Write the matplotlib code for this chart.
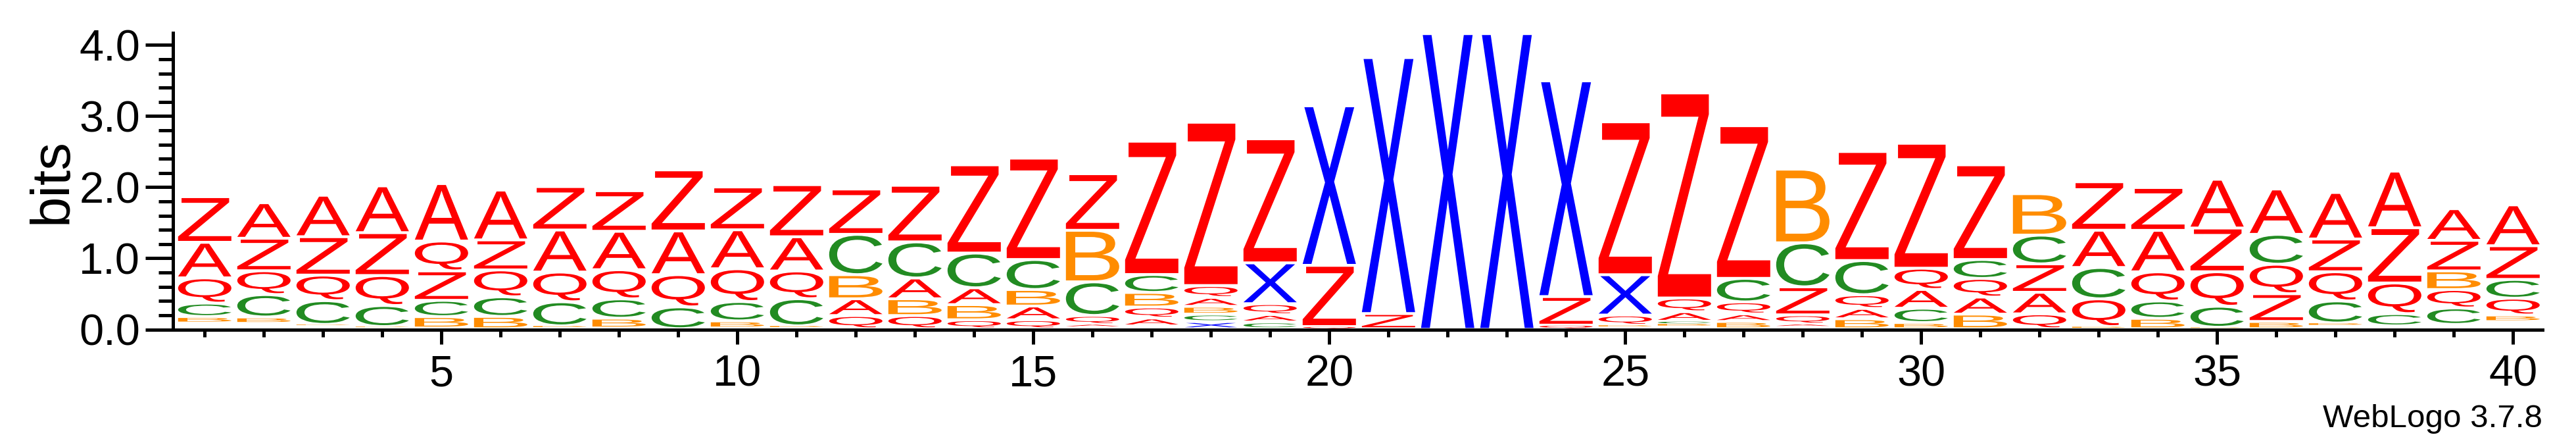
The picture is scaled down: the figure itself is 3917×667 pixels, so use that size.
import matplotlib
matplotlib.use('Agg')
import matplotlib.pyplot as plt
from matplotlib.textpath import TextPath
from matplotlib.patches import PathPatch
from matplotlib.font_manager import FontProperties
from matplotlib.transforms import Affine2D
from matplotlib.ticker import MultipleLocator, FixedLocator, FormatStrFormatter

# Позиции и буквы логотипа
positions = list(range(1, 41))
letters = ['A', 'B', 'C', 'Q', 'X', 'Z']

# Высота каждой буквы в битах (по позициям 1..40)
A_bits = [0.500, 0.500, 0.583, 0.658, 0.808, 0.701, 0.591, 0.540, 0.615, 0.548,
          0.481, 0.236, 0.292, 0.236, 0.193, 0.030, 0.110, 0.125, 0.104, 0.0,
          0.0, 0.0, 0.0, 0.0, 0.0, 0.134, 0.106, 0.030, 0.145, 0.264,
          0.240, 0.303, 0.524, 0.583, 0.686, 0.638, 0.654, 0.796, 0.445, 0.575]
B_bits = [0.091, 0.090, 0.010, 0.010, 0.160, 0.173, 0.020, 0.138, 0.0, 0.100,
          0.020, 0.339, 0.236, 0.213, 0.232, 0.725, 0.205, 0.110, 0.0, 0.0,
          0.0, 0.0, 0.0, 0.0, 0.020, 0.030, 0.102, 1.036, 0.140, 0.087,
          0.205, 0.583, 0.020, 0.146, 0.010, 0.102, 0.030, 0.0, 0.262, 0.093]
C_bits = [0.189, 0.315, 0.335, 0.296, 0.229, 0.276, 0.339, 0.272, 0.307, 0.272,
          0.382, 0.567, 0.508, 0.489, 0.422, 0.473, 0.252, 0.105, 0.095, 0.0,
          0.0, 0.0, 0.0, 0.0, 0.0, 0.035, 0.331, 0.619, 0.481, 0.201,
          0.266, 0.404, 0.441, 0.244, 0.296, 0.420, 0.311, 0.172, 0.232, 0.264]
Q_bits = [0.355, 0.335, 0.359, 0.422, 0.420, 0.378, 0.418, 0.410, 0.453, 0.461,
          0.390, 0.185, 0.185, 0.126, 0.126, 0.126, 0.155, 0.167, 0.153, 0.030,
          0.0, 0.0, 0.0, 0.050, 0.142, 0.193, 0.169, 0.130, 0.193, 0.299,
          0.262, 0.209, 0.390, 0.410, 0.485, 0.415, 0.410, 0.431, 0.259, 0.236]
X_bits = [0.0, 0.0, 0.0, 0.0, 0.0, 0.0, 0.0, 0.0, 0.0, 0.0,
          0.0, 0.0, 0.0, 0.0, 0.0, 0.0, 0.0, 0.100, 0.574, 2.244,
          3.600, 4.160, 4.160, 3.034, 0.567, 0.0, 0.0, 0.0, 0.0, 0.0,
          0.0, 0.0, 0.0, 0.0, 0.0, 0.0, 0.0, 0.0, 0.0, 0.0]
Z_bits = [0.642, 0.457, 0.540, 0.603, 0.414, 0.422, 0.611, 0.571, 0.859, 0.603,
          0.733, 0.638, 0.796, 1.241, 1.426, 0.796, 1.875, 2.297, 1.745, 0.861,
          0.213, 0.0, 0.0, 0.402, 2.151, 2.884, 2.147, 0.394, 1.533, 1.757,
          1.332, 0.400, 0.682, 0.603, 0.615, 0.390, 0.461, 0.777, 0.430, 0.474]
# Сумма почти невидимых символов у основания каждого столбца
rest_bits = [0.090, 0.085, 0.060, 0.030, 0.020, 0.010, 0.030, 0.020, 0.010, 0.020,
             0.030, 0.010, 0.010, 0.010, 0.010, 0.040, 0.050, 0.010, 0.010, 0.010,
             0.010, 0.0, 0.0, 0.010, 0.040, 0.050, 0.010, 0.045, 0.010, 0.010,
             0.010, 0.010, 0.020, 0.010, 0.020, 0.010, 0.060, 0.050, 0.070, 0.110]

bits = {'A': A_bits, 'B': B_bits, 'C': C_bits, 'Q': Q_bits, 'X': X_bits, 'Z': Z_bits}
colors = {'A': '#ff0000', 'Q': '#ff0000', 'Z': '#ff0000',
          'C': '#228b22', 'B': '#ff8c00', 'X': '#0000ff'}

plt.rcParams['font.family'] = ['Liberation Sans', 'DejaVu Sans']

font = FontProperties(family='Liberation Sans')
glyphs = {ch: TextPath((0, 0), ch, size=1, prop=font) for ch in letters}


def draw_letter(ax, ch, x, y0, h, width=0.9):
    """
    Рисует одну букву, растянутую в прямоугольник width x h.
    """
    if h <= 0:
        return
    pad = 0.02 if h > 0.08 else h * 0.15
    path = glyphs[ch]
    bb = path.get_extents()
    t = (Affine2D()
         .translate(-bb.x0, -bb.y0)
         .scale(width / bb.width, (h - 2 * pad) / bb.height)
         .translate(x - width / 2, y0 + pad))
    ax.add_patch(PathPatch(t.transform_path(path), facecolor=colors[ch],
                           edgecolor='none'))


fig = plt.figure(figsize=(39.17, 6.67), dpi=100)
ax = fig.add_axes([266.3 / 3917, 166.5 / 667, 3600 / 3917, 450.5 / 667])

for i, pos in enumerate(positions):
    # маленькие буквы снизу, большие сверху
    stack = sorted(letters, key=lambda ch: bits[ch][i])
    y = rest_bits[i]
    for ch in stack:
        h = bits[ch][i]
        draw_letter(ax, ch, pos, y, h)
        y += h

ax.set_xlim(0.5, 40.5)
ax.set_ylim(0, 4.17)

ax.spines['top'].set_visible(False)
ax.spines['right'].set_visible(False)
ax.spines['left'].set_position(('outward', 2.7))
ax.spines['left'].set_linewidth(3.6)
ax.spines['bottom'].set_linewidth(3.6)

ax.yaxis.set_major_locator(MultipleLocator(1))
ax.yaxis.set_minor_locator(MultipleLocator(0.2))
ax.yaxis.set_major_formatter(FormatStrFormatter('%.1f'))
ax.xaxis.set_major_locator(MultipleLocator(5))
ax.xaxis.set_minor_locator(FixedLocator(positions))

ax.tick_params(axis='y', which='major', length=30.6, width=3.6, labelsize=48, pad=5)
ax.tick_params(axis='y', which='minor', length=15.7, width=3.6)
ax.tick_params(axis='x', which='major', length=15.5, width=3.6, labelsize=48, pad=12)
ax.tick_params(axis='x', which='minor', length=7.6, width=3.6)

ax.set_ylabel('bits', fontsize=60)
ax.yaxis.set_label_coords(-0.041, 0.5)

fig.text(3866 / 3917, 18 / 667, 'WebLogo 3.7.8', ha='right', va='baseline', fontsize=35.5)

fig.savefig('out.png', dpi=100)
